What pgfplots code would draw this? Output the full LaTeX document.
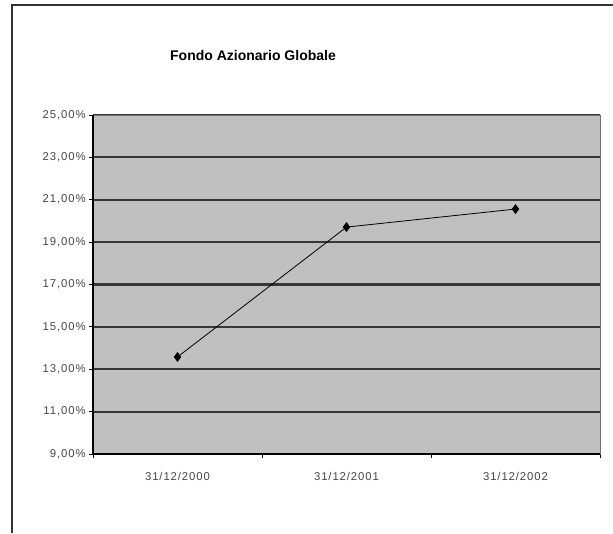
\documentclass[border=0pt]{standalone}
\usepackage{pgfplots}
\pgfplotsset{compat=1.18}
\usepackage{fontspec}
\setmainfont{Liberation Sans}
\definecolor{plotbg}{RGB}{192,192,192}
\definecolor{gridc}{RGB}{55,55,55}
\definecolor{labc}{RGB}{70,70,70}
\begin{document}
\begin{tikzpicture}
\useasboundingbox (-69.75pt,-59.25pt) rectangle (390pt,340.5pt);
% outer frame (only left and top visible)
\draw[line width=1.1pt, black!80] (-60.75pt,-59.25pt) -- (-60.75pt,336.75pt) -- (392pt,336.75pt);
\begin{axis}[%
at={(0pt,0pt)},
anchor=south west,
width=380.25pt,
height=254.25pt,
scale only axis,
xmin=0.5,
xmax=3.5,
ymin=9,
ymax=25,
xtick={1,2,3},
xticklabels={31/12/2000,31/12/2001,31/12/2002},
minor xtick={0.5,1.5,2.5,3.5},
ytick={9,11,13,15,17,19,21,23,25},
yticklabel={\pgfmathprintnumber[fixed,fixed zerofill,precision=2,use comma]{\tick}\%},
/pgf/number format/assume math mode=true,
major x tick style={draw=none},
minor tick length=3pt,
major tick length=3pt,
tick align=outside,
xtick pos=bottom,
ytick pos=left,
tick style={black, line width=0.6pt},
ticklabel style={font=\fontsize{8.5}{10}\selectfont\addfontfeatures{LetterSpace=8}, text=labc},
yticklabel style={xshift=1pt},
xticklabel style={yshift=-7pt},
ymajorgrids,
grid style={gridc, line width=1.6pt},
axis background/.style={fill=plotbg},
axis line style={black!55, line width=0.6pt},
clip=false,
]
\addplot[black, line width=0.6pt, mark=diamond*, mark size=3.2pt, mark options={solid, fill=black}] table[row sep=crcr] {%
1	13.58\\
2	19.71\\
3	20.56\\
};
\draw[black, line width=0.9pt] (rel axis cs:0,1) -- (rel axis cs:0,0) -- (rel axis cs:1,0);
\end{axis}
\node[font=\bfseries\fontsize{10.5}{12}\selectfont] at (120pt,299.25pt) {Fondo Azionario Globale};
\end{tikzpicture}
\end{document}
